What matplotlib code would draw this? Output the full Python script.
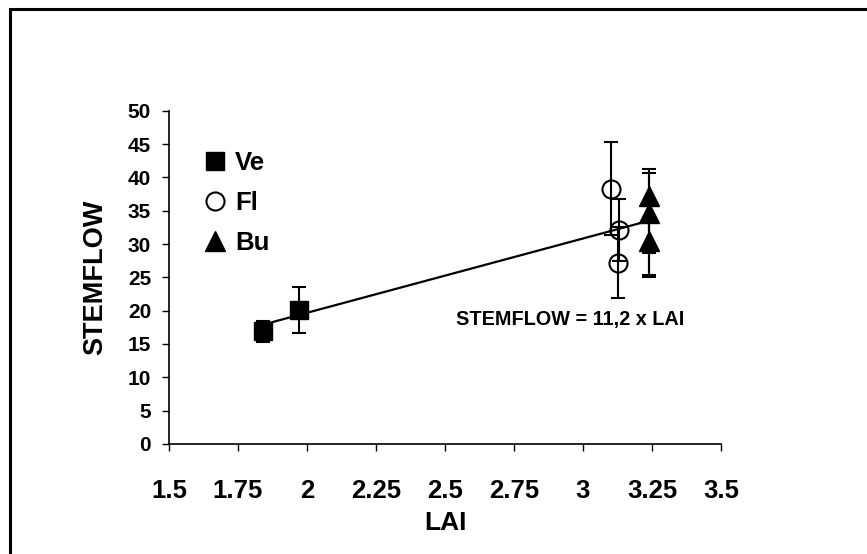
import matplotlib
matplotlib.use("Agg")
import matplotlib.pyplot as plt
from matplotlib.patches import Rectangle

# LAI vs stemflow, three stand types
ve_lai = [1.84, 1.97]
ve_sf = [16.9, 20.1]
ve_err = [1.6, 3.5]

fl_lai = [3.10, 3.13, 3.125]
fl_sf = [38.3, 32.1, 27.2]
fl_err = [7.0, 4.6, 5.3]

bu_lai = [3.24, 3.24, 3.24]
bu_sf = [37.2, 34.7, 30.4]
bu_err_low = [11.9, 6.0, 5.4]
bu_err_high = [4.0, 6.0, 5.4]

# fitted line endpoints as drawn
fit_lai = [1.84, 3.24]
fit_sf = [17.9, 33.5]

x_ticks = [1.5, 1.75, 2, 2.25, 2.5, 2.75, 3, 3.25, 3.5]
x_tick_labels = ["1.5", "1.75", "2", "2.25", "2.5", "2.75", "3", "3.25", "3.5"]
y_ticks = list(range(0, 55, 5))

plt.rcParams["font.family"] = ["Liberation Sans", "DejaVu Sans"]
plt.rcParams["font.weight"] = "bold"

fig = plt.figure(figsize=(8.67, 5.54), dpi=100)
ax = fig.add_axes([0.195, 0.1986, 0.6366, 0.6016])

# outer frame (only top and left edges visible in the original)
fig.add_artist(Rectangle((9.5 / 867, -0.1), 1.2, 1 - 9.5 / 554 + 0.1,
                         transform=fig.transFigure, fill=False,
                         edgecolor="black", linewidth=2.2))

ax.plot(fit_lai, fit_sf, color="black", linewidth=1.6, zorder=2)

eb = dict(ecolor="black", elinewidth=1.5, capsize=5, capthick=1.5,
          linestyle="none", zorder=3)
ax.errorbar(ve_lai, ve_sf, yerr=ve_err, marker="s", markersize=13.5,
            mfc="black", mec="black", label="Ve", **eb)
ax.errorbar(fl_lai, fl_sf, yerr=fl_err, marker="o", markersize=13,
            mfc="none", mec="black", mew=1.5, label="Fl", **eb)
ax.errorbar(bu_lai, bu_sf, yerr=[bu_err_low, bu_err_high], marker="^",
            markersize=14, mfc="black", mec="black", label="Bu", **eb)

ax.text(2.952, 18.6, "STEMFLOW = 11,2 x LAI", ha="center", va="center",
        fontsize=14.3, fontweight="bold")

ax.set_xlim(1.5, 3.5)
ax.set_ylim(0, 50)
ax.set_xticks(x_ticks)
ax.set_xticklabels(x_tick_labels)
ax.set_yticks(y_ticks)
ax.tick_params(axis="both", direction="out", length=5, width=1)
ax.tick_params(axis="x", pad=20, labelsize=18.5)
ax.tick_params(axis="y", pad=8, labelsize=15)
for lab in ax.get_xticklabels() + ax.get_yticklabels():
    lab.set_fontweight("bold")

for side in ("top", "right"):
    ax.spines[side].set_visible(False)
for side in ("left", "bottom"):
    ax.spines[side].set_linewidth(1.2)

ax.set_xlabel("LAI", fontsize=19, fontweight="bold", labelpad=6)
ax.set_ylabel("STEMFLOW", fontsize=19.5, fontweight="bold", labelpad=14)

handles, labels = ax.get_legend_handles_labels()
handles = [h[0] for h in handles]
ax.legend(handles, labels, loc="upper left", bbox_to_anchor=(0.022, 0.948),
          frameon=False, handlelength=0.8, handletextpad=0.4,
          labelspacing=0.62, prop={"weight": "bold", "size": 18.5})

fig.savefig("out.png", dpi=100, facecolor="white")
